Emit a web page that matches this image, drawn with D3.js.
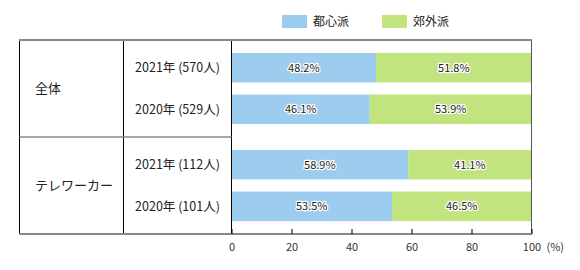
<!DOCTYPE html>
<html>
<head>
<meta charset="utf-8">
<script src="https://cdn.jsdelivr.net/npm/d3@7"></script>
<style>
  body { margin: 0; background: #fff; }
  svg { display: block; font-family: "Noto Sans CJK JP", "Noto Sans", sans-serif; }
</style>
</head>
<body>
<svg id="chart"></svg>
<script>
const groups = ['全体', 'テレワーカー'];
const years = ['2021年', '2020年'];
const respondents = [[570, 529], [112, 101]];
const series = ['都心派', '郊外派'];
const urban = [[48.2, 46.1], [58.9, 53.5]];
const suburban = [[51.8, 53.9], [41.1, 46.5]];
const xTicks = [0, 20, 40, 60, 80, 100];

(() => {
  const width = 580;
  const height = 270;
  const colors = ['#9dcdee', '#c1e47f'];

  const svg = d3.select('svg#chart')
    .attr('width', width)
    .attr('height', height);

  const tableLeft = 19.5;
  const labelCol = 123.5;
  const top = 40;
  const bottom = 234;

  const xScale = d3.scaleLinear()
    .domain([0, 100])
    .range([231.5, 531.5]);

  const groupScale = d3.scaleBand()
    .domain(groups)
    .range([top, bottom]);

  const yearScale = d3.scaleBand()
    .domain(years)
    .range([0, groupScale.bandwidth()])
    .paddingInner(0.29)
    .paddingOuter(0.31);

  const rows = [];
  groups.forEach((g, gi) => {
    years.forEach((y, yi) => {
      rows.push({
        group: g,
        year: y,
        n: respondents[gi][yi],
        values: [urban[gi][yi], suburban[gi][yi]],
        y: groupScale(g) + yearScale(y)
      });
    });
  });

  // legend
  const legend = svg.append('g')
    .selectAll('g')
    .data(series)
    .enter()
    .append('g')
    .attr('transform', (d, i) => `translate(${282 + i * 100},15)`);
  legend.append('rect')
    .attr('width', 25)
    .attr('height', 13)
    .attr('fill', (d, i) => colors[i]);
  legend.append('text')
    .attr('x', 31)
    .attr('y', 11)
    .attr('font-size', 12)
    .attr('fill', '#222')
    .text(d => d);

  // bars
  const bars = svg.append('g')
    .selectAll('g')
    .data(rows)
    .enter()
    .append('g');

  bars.selectAll('rect')
    .data(d => {
      let acc = 0;
      return d.values.map((v, i) => {
        const seg = { x0: acc, x1: acc + v, v, i, y: d.y };
        acc += v;
        return seg;
      });
    })
    .enter()
    .append('rect')
    .attr('x', d => xScale(d.x0))
    .attr('width', d => xScale(d.x1) - xScale(d.x0))
    .attr('y', d => d.y)
    .attr('height', yearScale.bandwidth())
    .attr('fill', d => colors[d.i]);

  bars.selectAll('text')
    .data(d => {
      let acc = 0;
      return d.values.map((v, i) => {
        const seg = { mid: acc + v / 2, v, y: d.y };
        acc += v;
        return seg;
      });
    })
    .enter()
    .append('text')
    .attr('x', d => xScale(d.mid))
    .attr('y', d => d.y + yearScale.bandwidth() / 2)
    .attr('dy', '0.35em')
    .attr('text-anchor', 'middle')
    .attr('font-size', 11)
    .attr('fill', '#222')
    .attr('stroke', '#fff')
    .attr('stroke-width', 2.5)
    .attr('stroke-linejoin', 'round')
    .attr('paint-order', 'stroke')
    .text(d => d.v.toFixed(1) + '%');

  // row labels
  svg.append('g')
    .selectAll('text')
    .data(rows)
    .enter()
    .append('text')
    .attr('x', (labelCol + xScale(0)) / 2)
    .attr('y', d => d.y + yearScale.bandwidth() / 2)
    .attr('dy', '0.35em')
    .attr('text-anchor', 'middle')
    .attr('font-size', 12.5)
    .attr('fill', '#222')
    .text(d => `${d.year} (${d.n}人)`);

  svg.append('g')
    .selectAll('text')
    .data(groups)
    .enter()
    .append('text')
    .attr('x', 35)
    .attr('y', d => groupScale(d) + groupScale.bandwidth() / 2)
    .attr('dy', '0.35em')
    .attr('font-size', 13)
    .attr('fill', '#222')
    .text(d => d);

  // table lines
  const lines = svg.append('g');
  [tableLeft, labelCol, xScale(0)].forEach(x => {
    lines.append('line')
      .attr('x1', x).attr('x2', x)
      .attr('y1', top).attr('y2', bottom)
      .attr('stroke', '#000')
      .attr('stroke-width', 1);
  });
  lines.append('line')
    .attr('x1', xScale(100)).attr('x2', xScale(100))
    .attr('y1', top).attr('y2', bottom)
    .attr('stroke', '#555')
    .attr('stroke-width', 1);
  lines.append('line')
    .attr('x1', tableLeft).attr('x2', xScale(0))
    .attr('y1', groupScale(groups[1])).attr('y2', groupScale(groups[1]))
    .attr('stroke', '#888')
    .attr('stroke-width', 1.5);
  [top, bottom].forEach(y => {
    lines.append('line')
      .attr('x1', tableLeft - 0.5).attr('x2', xScale(100) + 0.5)
      .attr('y1', y).attr('y2', y)
      .attr('stroke', '#888')
      .attr('stroke-width', 2);
  });

  // axis
  const axis = svg.append('g')
    .attr('transform', `translate(0,${bottom})`)
    .call(d3.axisBottom(xScale).tickValues(xTicks).tickSize(-5).tickPadding(9));
  axis.select('.domain').remove();
  axis.selectAll('.tick line').attr('stroke', '#000');
  axis.selectAll('.tick text')
    .attr('font-size', 11)
    .attr('fill', '#333')
    .attr('font-family', '"Noto Sans CJK JP", sans-serif');
  axis.append('text')
    .attr('x', xScale(100) + 15)
    .attr('y', 9)
    .attr('dy', '0.71em')
    .attr('font-size', 11)
    .attr('fill', '#333')
    .attr('text-anchor', 'start')
    .attr('font-family', '"Noto Sans CJK JP", sans-serif')
    .text('(%)');
})();
</script>
</body>
</html>
